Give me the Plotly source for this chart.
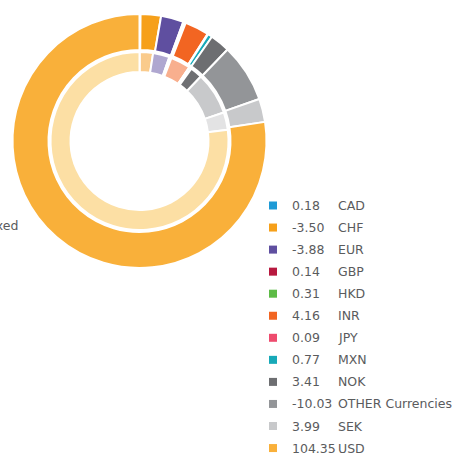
import plotly.graph_objects as go

# ---- data ----
currencies = ["CAD", "CHF", "EUR", "GBP", "HKD", "INR", "JPY", "MXN", "NOK",
              "OTHER Currencies", "SEK", "USD"]
exposure = [0.18, -3.50, -3.88, 0.14, 0.31, 4.16, 0.09, 0.77, 3.41, -10.03, 3.99, 104.35]
# inner ring (estimated share, %)
inner_share = [0.05, 2.4, 3.0, 0.15, 0.25, 3.6, 0.05, 0.4, 2.2, 7.7, 3.2, 77.0]

outer_colors = ["#1E9AD6", "#F6A01A", "#5F4FA0", "#B7193F", "#5DBB46", "#F26522",
                "#EE4B6E", "#17A9B8", "#6D6E71", "#939598", "#C8C9CB", "#F9B03A"]
inner_colors = ["#8ECDEB", "#FACB8C", "#AFA7D0", "#DB8C9F", "#AEDDA2", "#F8AF8E",
                "#F6A5B6", "#7FD3DC", "#6F7073", "#C8C9CB", "#E3E3E4", "#FCDFA4"]

W, H = 453, 454
TEXT = "#5a5b5d"
FONT = "DejaVu Sans"
FSIZE = 12.5


def px(x):
    return x / W


def py(y):
    return (H - y) / H


cx, cy = 139.5, 141.0
R_out, R_in = 127.0, 89.0

fig = go.Figure()
fig.add_trace(go.Pie(
    labels=currencies,
    values=[abs(v) for v in exposure],
    sort=False, direction="clockwise", rotation=0,
    hole=91.0 / R_out,
    marker=dict(colors=outer_colors, line=dict(color="white", width=2)),
    textinfo="none", showlegend=False,
    domain=dict(x=[px(cx - R_out), px(cx + R_out)], y=[py(cy + R_out), py(cy - R_out)]),
))
fig.add_trace(go.Pie(
    labels=currencies,
    values=inner_share,
    sort=False, direction="clockwise", rotation=0,
    hole=69.0 / R_in,
    marker=dict(colors=inner_colors, line=dict(color="white", width=2)),
    textinfo="none", showlegend=False,
    domain=dict(x=[px(cx - R_in), px(cx + R_in)], y=[py(cy + R_in), py(cy - R_in)]),
))

# ---- custom legend ----
row0, row_gap = 205.5, 22.05
annotations = []
shapes = []
for i, (name, val, col) in enumerate(zip(currencies, exposure, outer_colors)):
    yc = row0 + i * row_gap
    shapes.append(dict(type="rect", xref="paper", yref="paper",
                       x0=px(269), x1=px(277), y0=py(yc + 4), y1=py(yc - 4),
                       fillcolor=col, line=dict(width=0)))
    annotations.append(dict(x=px(290), y=py(yc), xref="paper", yref="paper",
                            xanchor="left", yanchor="middle", showarrow=False,
                            text=f"{val:.2f}", font=dict(family=FONT, size=FSIZE, color=TEXT)))
    annotations.append(dict(x=px(335.5), y=py(yc), xref="paper", yref="paper",
                            xanchor="left", yanchor="middle", showarrow=False,
                            text=name, font=dict(family=FONT, size=FSIZE, color=TEXT)))

annotations.append(dict(x=px(19.5), y=py(225.5), xref="paper", yref="paper",
                        xanchor="right", yanchor="middle", showarrow=False,
                        text="Fixed", font=dict(family=FONT, size=FSIZE, color=TEXT)))

fig.update_layout(
    width=W, height=H,
    margin=dict(l=0, r=0, t=0, b=0),
    paper_bgcolor="white", plot_bgcolor="white",
    showlegend=False,
    annotations=annotations, shapes=shapes,
    font=dict(family=FONT, color=TEXT),
)

fig.write_html("out.html")
